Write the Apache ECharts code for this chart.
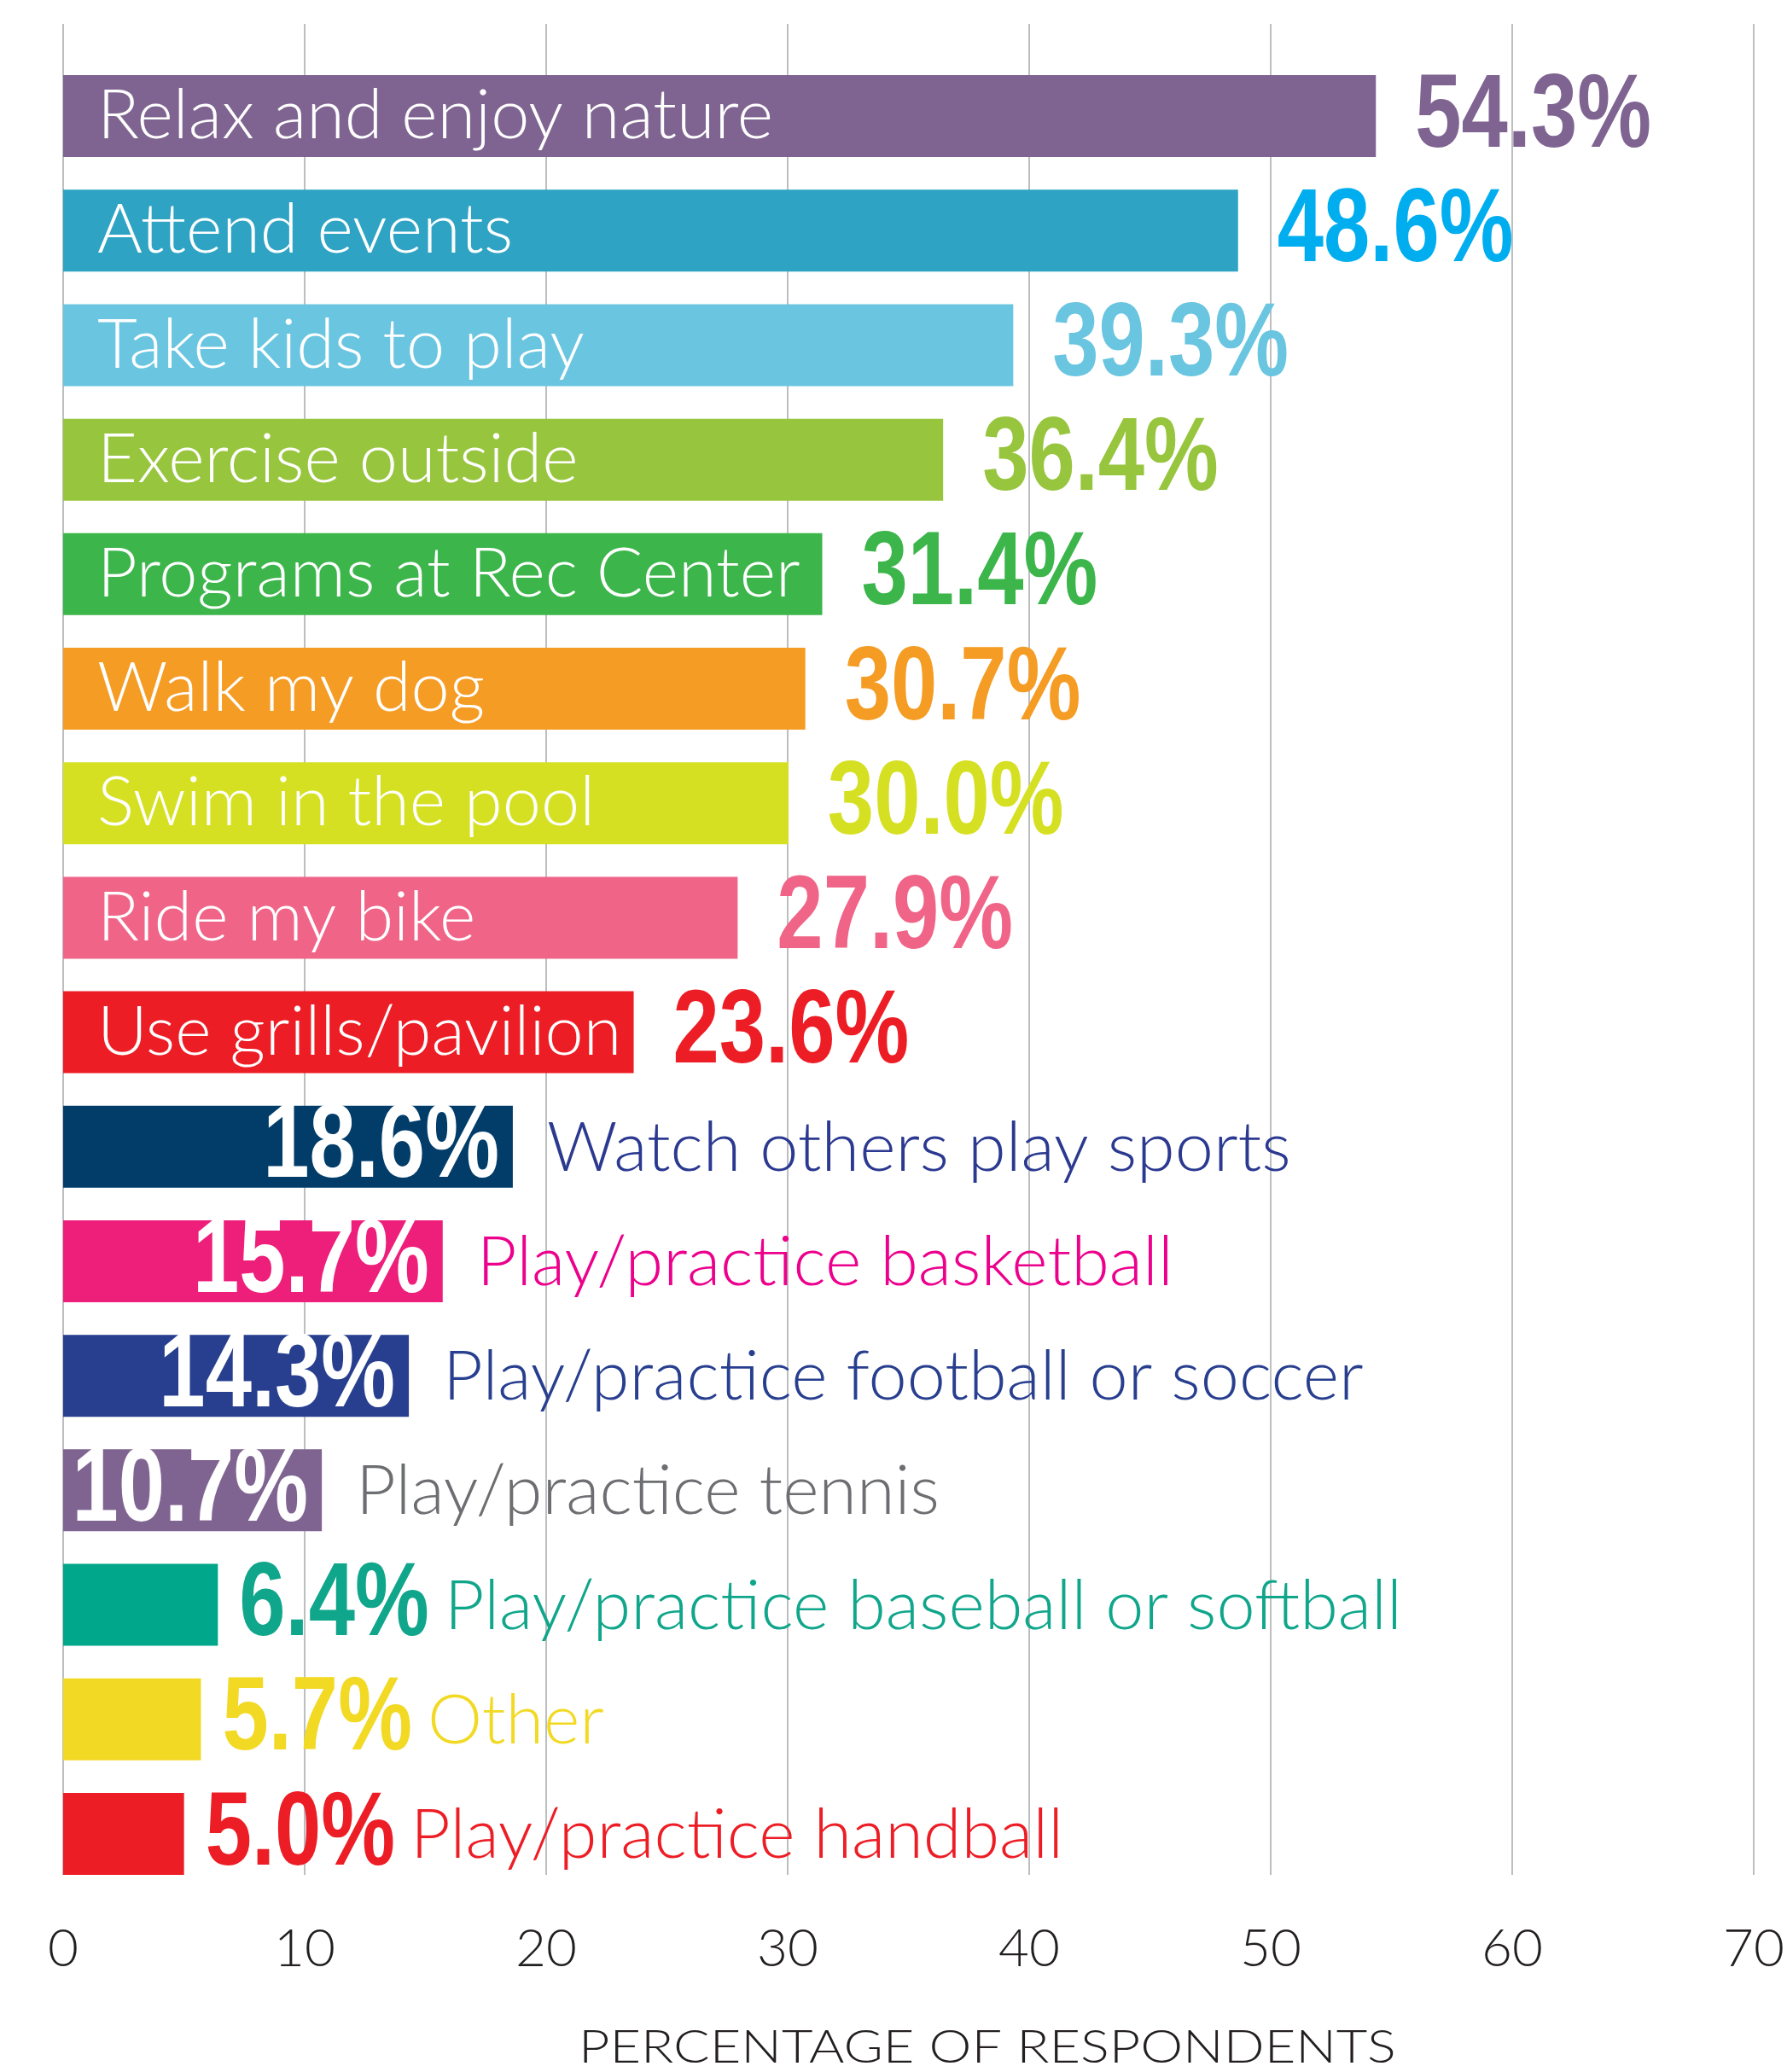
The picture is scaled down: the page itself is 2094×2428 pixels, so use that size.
<!DOCTYPE html>
<html>
<head>
<meta charset="utf-8">
<script src="https://cdn.jsdelivr.net/npm/echarts@6/dist/echarts.min.js"></script>
<style>
  html, body { margin: 0; padding: 0; background: #ffffff; }
  #chart { width: 2094px; height: 2428px; }
</style>
</head>
<body>
<div id="chart"></div>
<script>
// activities, top to bottom
const categories = [
  "Relax and enjoy nature",
  "Attend events",
  "Take kids to play",
  "Exercise outside",
  "Programs at Rec Center",
  "Walk my dog",
  "Swim in the pool",
  "Ride my bike",
  "Use grills/pavilion",
  "Watch others play sports",
  "Play/practice basketball",
  "Play/practice football or soccer",
  "Play/practice tennis",
  "Play/practice baseball or softball",
  "Other",
  "Play/practice handball"
];
const values = [54.3, 48.6, 39.3, 36.4, 31.4, 30.7, 30.0, 27.9, 23.6, 18.6, 15.7, 14.3, 10.7, 6.4, 5.7, 5.0];
const barColors = [
  "#7f6491", "#2ea3c3", "#69c5e0", "#97c53e", "#3cb54b", "#f59c24", "#d6e023", "#f06488",
  "#ed1d25", "#023d6a", "#ee1f7a", "#273f8e", "#7f6491", "#00a78b", "#f2d924", "#ed1d25"
];
const textColors = [
  "#7f6491", "#00aeef", "#69c5e0", "#97c53e", "#3cb54b", "#f59c24", "#d6e023", "#f06488",
  "#ed1d25", "#2b3990", "#ec008c", "#283f8f", "#6d6e71", "#10a68b", "#f2d924", "#ed1d25"
];
const axisTitle = "PERCENTAGE OF RESPONDENTS";

const NAME_FONT = "Lato";
const NAME_SIZE = 81;
const NAME_WEIGHT = 300;
const VALUE_FONT = "bold 122px 'Liberation Sans', Arial, sans-serif";
const VALUE_SCALE = 0.8; // squeeze to a condensed look
const pct = v => v.toFixed(1) + "%";

// measure text widths for placing names after the value labels
const measureCtx = document.createElement("canvas").getContext("2d");
function textWidth(text, font) {
  measureCtx.font = font;
  return measureCtx.measureText(text).width;
}

function valueEl(text, x, y, align, fill) {
  return {
    type: "text", x: x, y: y, scaleX: VALUE_SCALE,
    style: { text: text, x: 0, y: 0, align: align, verticalAlign: "middle", fill: fill, font: VALUE_FONT }
  };
}
function nameEl(text, x, y, fill) {
  return {
    type: "text", x: x, y: y,
    style: { text: text, x: 0, y: 0, align: "left", verticalAlign: "middle", fill: fill,
      font: NAME_WEIGHT + " " + NAME_SIZE + "px " + NAME_FONT }
  };
}

// first 9: name inside, value outside; next 4: value inside, name outside; last 3: both outside
function renderLabels(params, api) {
  const i = params.dataIndex;
  const v = api.value(0);
  const end = api.coord([v, api.value(1)]);
  const x = end[0], y = end[1] + 2;
  const txt = pct(v);
  const children = [];
  if (i < 9) {
    children.push(valueEl(txt, x + 46, y, "left", textColors[i]));
  } else if (i < 13) {
    children.push(valueEl(txt, x - 16, y, "right", "#ffffff"));
    children.push(nameEl(categories[i], x + 40, y, textColors[i]));
  } else {
    const w = textWidth(txt, VALUE_FONT) * VALUE_SCALE;
    children.push(valueEl(txt, x + 25, y, "left", textColors[i]));
    children.push(nameEl(categories[i], x + 25 + w + 18, y, textColors[i]));
  }
  return { type: "group", children: children };
}

const barData = values.map((v, i) => ({
  value: v,
  itemStyle: { color: barColors[i] },
  label: i < 9
    ? { show: true, position: "insideLeft", distance: 40, color: "#ffffff",
        fontFamily: NAME_FONT, fontWeight: NAME_WEIGHT, fontSize: NAME_SIZE, formatter: () => categories[i] }
    : { show: false }
}));

const chart = echarts.init(document.getElementById("chart"));

chart.setOption({
  animation: false,
  backgroundColor: "#ffffff",
  grid: [
    // gridlines + tick labels
    { left: 74, right: 37, top: 28, bottom: 231 },
    // bars
    { left: 74, right: 37, top: 69, bottom: 212 }
  ],
  xAxis: [
    {
      gridIndex: 0, type: "value", min: 0, max: 70, interval: 10,
      axisLine: { show: false },
      axisTick: { show: false },
      splitLine: { show: true, lineStyle: { color: "#bcbec0", width: 2 } },
      axisLabel: { color: "#231f20", fontFamily: NAME_FONT, fontWeight: 300, fontSize: 62, margin: 56 }
    },
    { gridIndex: 1, type: "value", min: 0, max: 70, show: false, splitLine: { show: false } }
  ],
  yAxis: [
    { gridIndex: 0, type: "value", min: 0, max: 1, show: false, splitLine: { show: false } },
    { gridIndex: 1, type: "category", data: categories, inverse: true, show: false }
  ],
  graphic: [
    {
      type: "text", x: 678, y: 2400, scaleX: 1.19,
      style: { text: axisTitle, x: 0, y: 0, verticalAlign: "middle", fill: "#231f20", font: "300 53px Lato" }
    }
  ],
  series: [
    {
      name: "bars", type: "bar", xAxisIndex: 1, yAxisIndex: 1,
      barWidth: 96, data: barData
    },
    {
      name: "labels", type: "custom", xAxisIndex: 1, yAxisIndex: 1,
      silent: true, z: 5,
      encode: { x: 0, y: 1 },
      data: values.map((v, i) => [v, i]),
      renderItem: renderLabels
    }
  ]
});
</script>
</body>
</html>
